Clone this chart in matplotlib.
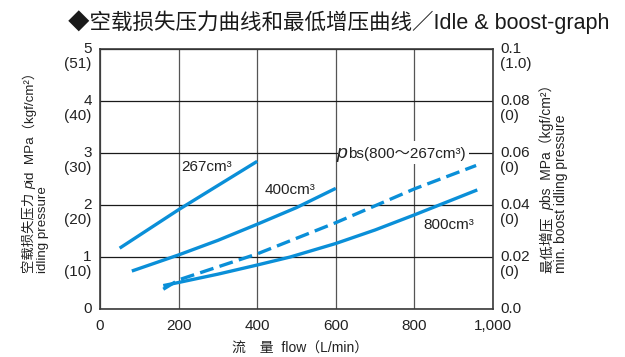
import matplotlib
matplotlib.use("Agg")
import matplotlib.pyplot as plt
from matplotlib.patches import Rectangle

plt.rcParams['font.family'] = ['Liberation Sans', 'Noto Sans CJK SC', 'DejaVu Sans']

BLUE = '#0a8fd8'

# Idling pressure curves (flow L/min -> MPa)
flow_267 = [50, 200, 400]
pid_267 = [1.17, 1.91, 2.84]

flow_400 = [81, 200, 300, 400, 500, 600]
pid_400 = [0.73, 1.04, 1.32, 1.63, 1.95, 2.32]

flow_800 = [161, 200, 300, 400, 484, 600, 700, 800, 960]
pid_800 = [0.45, 0.51, 0.67, 0.846, 1.0, 1.26, 1.52, 1.81, 2.29]

# Minimum boost idling pressure (flow L/min -> MPa)
flow_pbs = [161, 200, 400, 600, 800, 957]
pbs = [0.0076, 0.0112, 0.0212, 0.0332, 0.0462, 0.0552]

# Axis tick labels
x_ticks = [0, 200, 400, 600, 800, 1000]
x_ticklabels = ['0', '200', '400', '600', '800', '1,000']
left_ticks = [0, 1, 2, 3, 4, 5]
left_main = ['0', '1', '2', '3', '4', '5']
left_sub = ['', '(10)', '(20)', '(30)', '(40)', '(51)']
right_ticks = [0.0, 0.02, 0.04, 0.06, 0.08, 0.1]
right_main = ['0.0', '0.02', '0.04', '0.06', '0.08', '0.1']
right_sub = ['', '(0)', '(0)', '(0)', '(0)', '(1.0)']

W, H, DPI = 625, 357, 100
fig = plt.figure(figsize=(W / DPI, H / DPI), dpi=DPI)
ax = fig.add_axes([100 / W, 1 - 309 / H, 393 / W, 260 / H])
ax.set_xlim(0, 1000)
ax.set_ylim(0, 5)
ax2 = ax.twinx()
ax2.set_ylim(0, 0.1)

for a in (ax, ax2):
    a.tick_params(left=False, right=False, bottom=False, top=False,
                  labelleft=False, labelright=False, labelbottom=False)
for s in ax2.spines.values():
    s.set_visible(False)
for s in ax.spines.values():
    s.set_color('#3a3a3a')
    s.set_linewidth(1.2)

ax.set_xticks(x_ticks)
ax.set_yticks(left_ticks)
ax.set_axisbelow(True)
ax.xaxis.grid(True, color='#555555', linewidth=0.9)
ax.yaxis.grid(True, color='#1a1a1a', linewidth=0.9)

# white backing behind the pbs caption
ax.add_patch(Rectangle((606, 2.79), 334, 0.45, facecolor='white',
                       edgecolor='none', zorder=1.5))

lw = 2.4
ax.plot(flow_267, pid_267, color=BLUE, lw=lw, zorder=3, solid_capstyle='butt')
ax.plot(flow_400, pid_400, color=BLUE, lw=lw, zorder=3, solid_capstyle='butt')
ax.plot(flow_800, pid_800, color=BLUE, lw=lw, zorder=3, solid_capstyle='butt')
ax2.plot(flow_pbs, pbs, color=BLUE, lw=lw, dashes=(4.2, 1.9), zorder=3)

fs = 11
ax.text(206, 2.74, '267cm³', fontsize=fs, ha='left', va='center', color='#222222')
ax.text(420, 2.29, '400cm³', fontsize=fs, ha='left', va='center', color='#222222')
ax.text(822, 1.62, '800cm³', fontsize=fs, ha='left', va='center', color='#222222')
ax.text(602, 2.91, 'p', fontsize=14, style='italic', ha='left', va='baseline',
        color='#222222', zorder=4)
ax.text(630, 2.91, 'bs(800～267cm³)', fontsize=fs, ha='left', va='baseline',
        color='#222222', zorder=4)

# x tick labels
for xv, lab in zip(x_ticks, x_ticklabels):
    ax.annotate(lab, (xv, 0), xycoords=('data', 'axes fraction'),
                xytext=(0, -12), textcoords='offset points', ha='center',
                va='center', fontsize=fs, color='#222222')

# left tick labels (MPa with kgf/cm² below)
for yv, m, s in zip(left_ticks, left_main, left_sub):
    ax.annotate(m, (0, yv), xycoords=('axes fraction', 'data'),
                xytext=(-6, 0), textcoords='offset points', ha='right',
                va='center', fontsize=fs, color='#222222')
    if s:
        ax.annotate(s, (0, yv), xycoords=('axes fraction', 'data'),
                    xytext=(-6, -11), textcoords='offset points', ha='right',
                    va='center', fontsize=fs, color='#222222')

# right tick labels
for yv, m, s in zip(right_ticks, right_main, right_sub):
    ax2.annotate(m, (1, yv), xycoords=('axes fraction', 'data'),
                 xytext=(5, 0), textcoords='offset points', ha='left',
                 va='center', fontsize=fs, color='#222222')
    if s:
        ax2.annotate(s, (1, yv), xycoords=('axes fraction', 'data'),
                     xytext=(5, -11), textcoords='offset points', ha='left',
                     va='center', fontsize=fs, color='#222222')

fig.text(0.5 * (100 + 493) / W + 0.005, 1 - 349 / H, '流　量  flow（L/min）', fontsize=10,
         ha='center', va='center', color='#222222')

renderer = fig.canvas.get_renderer()


def vertical_label(x_px, y_px, pieces, size):
    """Stack rotated text pieces bottom-to-top starting at pixel (x_px, y_px)."""
    y = y_px
    for txt, style in pieces:
        t = fig.text(x_px / W, y / H, txt, rotation=90, fontsize=size,
                     style=style, ha='center', va='bottom', color='#222222')
        bb = t.get_window_extent(renderer)
        y += bb.height


vertical_label(30, H - 273, [('空载损失压力 ', 'normal'), ('p', 'italic'),
                             ('id  MPa（kgf/cm²）', 'normal')], 9.6)
vertical_label(43, H - 273, [('idling pressure', 'normal')], 9.6)
vertical_label(547, H - 273, [('最低增压  ', 'normal'), ('p', 'italic'),
                              ('bs  MPa（kgf/cm²）', 'normal')], 10)
vertical_label(561, H - 273, [('min. boost idling pressure', 'normal')], 10)

fig.text(68 / W, 1 - 22 / H, '◆空载损失压力曲线和最低增压曲线／Idle & boost-graph',
         fontsize=15.5, ha='left', va='center', color='#1a1a1a')

fig.savefig('out.png', dpi=DPI)
